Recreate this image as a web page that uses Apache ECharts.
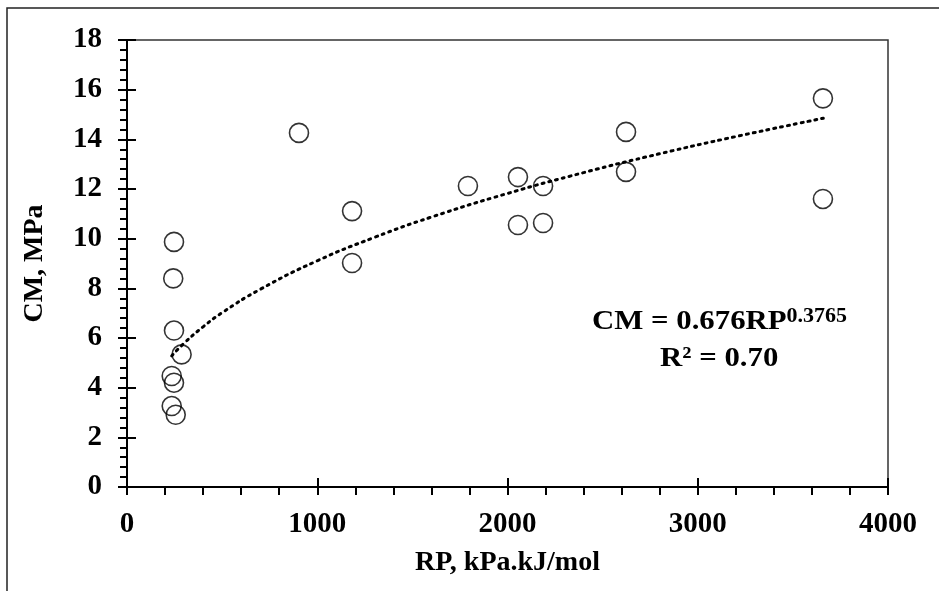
<!DOCTYPE html>
<html>
<head>
<meta charset="utf-8">
<script src="https://cdn.jsdelivr.net/npm/echarts@6/dist/echarts.min.js"></script>
<style>html,body{margin:0;padding:0;background:#fff;}#c{width:939px;height:591px;}</style>
</head>
<body>
<div id="c"></div>
<script>
// Observed data
var rpValues = [243, 247, 247, 287, 235, 247, 235, 256, 904, 1183, 1183, 1792, 2055, 2055, 2187, 2187, 2623, 2623, 3658, 3658];
var cmValues = [8.40, 9.87, 6.30, 5.34, 4.47, 4.20, 3.26, 2.91, 14.26, 11.11, 9.02, 12.12, 12.48, 10.55, 12.12, 10.63, 14.30, 12.69, 15.65, 11.60];
// Power trendline
var trendX = [235, 300, 400, 500, 700, 1000, 1300, 1600, 2000, 2400, 2800, 3200, 3660];
var trendY = [5.28, 5.79, 6.45, 7.02, 7.96, 9.11, 10.05, 10.87, 11.82, 12.66, 13.42, 14.11, 14.85];
var xTicks = [0, 1000, 2000, 3000, 4000];
var yTicks = [0, 2, 4, 6, 8, 10, 12, 14, 16, 18];

var font = '"Liberation Serif", "Times New Roman", serif';
var points = rpValues.map(function (x, i) { return [x, cmValues[i]]; });
var trend = trendX.map(function (x, i) { return [x, trendY[i]]; });

var chart = echarts.init(document.getElementById('c'), null, {renderer: 'canvas'});
var labelStyle = {color: '#000', fontFamily: font, fontWeight: 'bold', fontSize: 29};
chart.setOption({
  animation: false,
  backgroundColor: '#fff',
  grid: {left: 127, top: 40, right: 51, bottom: 104, show: true, borderColor: '#333', borderWidth: 1.5, backgroundColor: 'transparent'},
  xAxis: [{
    type: 'value', min: xTicks[0], max: xTicks[xTicks.length - 1], interval: 1000,
    name: 'RP, kPa.kJ/mol', nameLocation: 'middle', nameGap: 62,
    nameTextStyle: {color: '#000', fontFamily: font, fontWeight: 'bold', fontSize: 28},
    axisLine: {show: true, onZero: false, lineStyle: {color: '#000', width: 2}},
    axisTick: {show: true, length: 8, lineStyle: {color: '#000', width: 2}},
    minorTick: {show: true, splitNumber: 5, length: 8, lineStyle: {color: '#000', width: 2}},
    axisLabel: Object.assign({margin: 23, formatter: function (v) { return String(v); }}, labelStyle),
    splitLine: {show: false}
  }, {
    type: 'value', min: xTicks[0], max: xTicks[xTicks.length - 1], interval: 1000, position: 'bottom',
    axisLine: {show: false},
    axisTick: {show: true, inside: true, length: 9, lineStyle: {color: '#000', width: 2}},
    axisLabel: {show: false}, splitLine: {show: false}
  }],
  yAxis: [{
    type: 'value', min: yTicks[0], max: yTicks[yTicks.length - 1], interval: 2,
    name: 'CM, MPa', nameLocation: 'middle', nameGap: 78,
    nameTextStyle: {color: '#000', fontFamily: font, fontWeight: 'bold', fontSize: 28},
    axisLine: {show: true, onZero: false, lineStyle: {color: '#000', width: 2}},
    axisTick: {show: true, length: 9, lineStyle: {color: '#000', width: 2}},
    minorTick: {show: true, splitNumber: 5, length: 7, lineStyle: {color: '#000', width: 2}},
    axisLabel: Object.assign({margin: 25}, labelStyle),
    splitLine: {show: false}
  }, {
    type: 'value', min: yTicks[0], max: yTicks[yTicks.length - 1], interval: 2, position: 'left',
    axisLine: {show: false},
    axisTick: {show: true, inside: true, length: 9, lineStyle: {color: '#000', width: 2}},
    axisLabel: {show: false}, splitLine: {show: false}
  }],
  series: [{
    type: 'line', data: trend, xAxisIndex: 0, yAxisIndex: 0, smooth: true, showSymbol: false, symbol: 'none',
    lineStyle: {color: '#000', width: 3, type: [2, 5], cap: 'round'}, z: 2
  }, {
    type: 'scatter', data: points, xAxisIndex: 0, yAxisIndex: 0, symbol: 'circle', symbolSize: 19,
    itemStyle: {color: 'rgba(0,0,0,0)', borderColor: '#000', borderWidth: 1.6}, z: 3
  }],
  graphic: [{
    type: 'rect', shape: {x: 7, y: 8, width: 1000, height: 700},
    style: {fill: 'none', stroke: '#222', lineWidth: 1.5}, silent: true, z: -1
  }, {
    type: 'text', x: 592, y: 307, scaleX: 1.1,
    style: {
      text: '{b|CM = 0.676RP}{s|0.3765}',
      rich: {
        b: {fontFamily: font, fontWeight: 'bold', fontSize: 28, fill: '#000'},
        s: {fontFamily: font, fontWeight: 'bold', fontSize: 20, fill: '#000', padding: [0, 0, 9, 0]}
      }
    }
  }, {
    type: 'text', x: 660, y: 345, scaleX: 1.1,
    style: {text: 'R² = 0.70', fontFamily: font, fontWeight: 'bold', fontSize: 28, fill: '#000'}
  }]
});
</script>
</body>
</html>
